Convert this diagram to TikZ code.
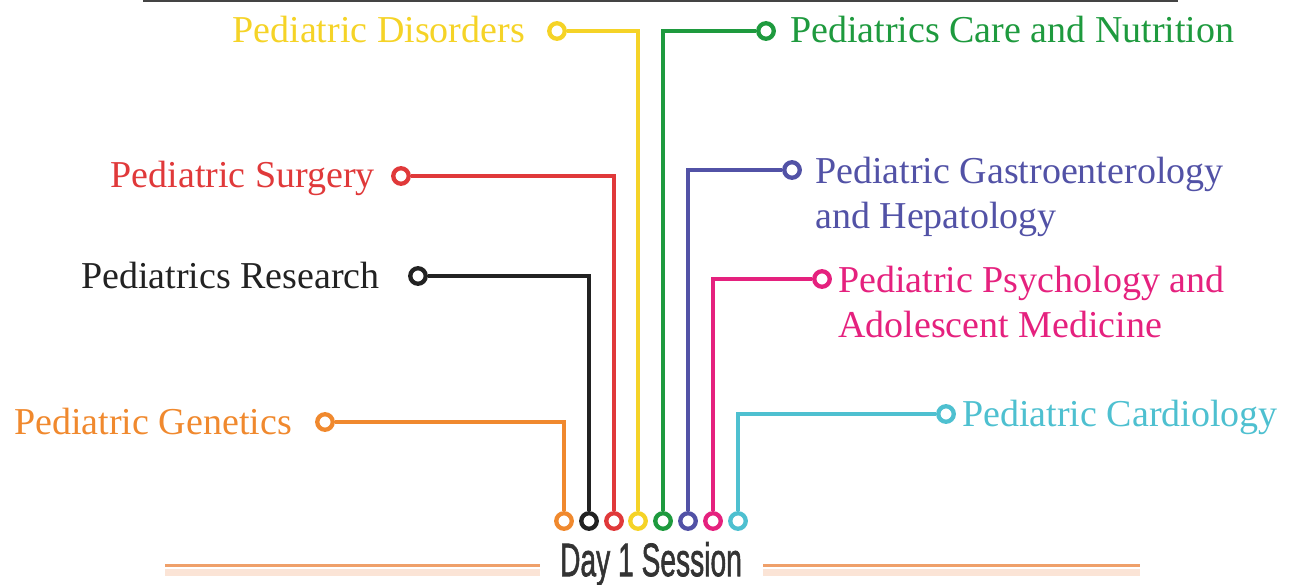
\documentclass[tikz,border=0pt]{standalone}
\usepackage{fontspec}
\setmainfont{Liberation Serif}
\newfontfamily\dayfont[FakeBold=1.6]{Liberation Sans}
\definecolor{cOr}{HTML}{F0892E}
\definecolor{cBk}{HTML}{222222}
\definecolor{cRd}{HTML}{E0393A}
\definecolor{cYe}{HTML}{F5D327}
\definecolor{cGr}{HTML}{1E9A3E}
\definecolor{cBl}{HTML}{5252A6}
\definecolor{cPk}{HTML}{E5217E}
\definecolor{cCy}{HTML}{4EC0D0}
\definecolor{cRule}{HTML}{444444}
\definecolor{cBand}{HTML}{EFA06A}
\definecolor{cBandL}{HTML}{FBE4D6}
\definecolor{cDay}{HTML}{333333}
\begin{document}
\begin{tikzpicture}[x=1pt,y=-1pt,
  dot/.style={circle,draw=#1,fill=white,line width=4.3pt,minimum size=15.5pt,inner sep=0pt},
  conn/.style={draw=#1,line width=4.5pt},
  lab/.style={text=#1,inner sep=0pt,font=\fontsize{38}{45}\selectfont}]
\useasboundingbox (0,0) rectangle (1292,585);
% top rule
\draw[cRule,line width=2.5pt] (143,1) -- (1178,1);
% bottom circles
\node[dot=cOr] (b1) at (564,521) {};
\node[dot=cBk] (b2) at (589,521) {};
\node[dot=cRd] (b3) at (614,521) {};
\node[dot=cYe] (b4) at (638,521) {};
\node[dot=cGr] (b5) at (663,521) {};
\node[dot=cBl] (b6) at (688,521) {};
\node[dot=cPk] (b7) at (713,521) {};
\node[dot=cCy] (b8) at (738,521) {};
% label circles
\node[dot=cOr] (t1) at (325,422) {};
\node[dot=cBk] (t2) at (418,276) {};
\node[dot=cRd] (t3) at (401,176) {};
\node[dot=cYe] (t4) at (557,31) {};
\node[dot=cGr] (t5) at (766,31) {};
\node[dot=cBl] (t6) at (792,170) {};
\node[dot=cPk] (t7) at (822,279) {};
\node[dot=cCy] (t8) at (946,414) {};
% connectors
\draw[conn=cOr] (t1) -| (b1);
\draw[conn=cBk] (t2) -| (b2);
\draw[conn=cRd] (t3) -| (b3);
\draw[conn=cYe] (t4) -| (b4);
\draw[conn=cGr] (t5) -| (b5);
\draw[conn=cBl] (t6) -| (b6);
\draw[conn=cPk] (t7) -| (b7);
\draw[conn=cCy] (t8) -| (b8);
% labels
\node[lab=cOr,anchor=base east] (l1) at (292,434) {Pediatric Genetics};
\node[lab=cBk,anchor=base east] (l2) at (380,288) {Pediatrics Research};
\node[lab=cRd,anchor=base east] (l3) at (375,188) {Pediatric Surgery};
\node[lab=cYe,anchor=base east] (l4) at (525,43) {Pediatric Disorders};
\node[lab=cGr,anchor=base west] (l5) at (790,43) {Pediatrics Care and Nutrition};
\node[lab=cBl,anchor=north west,align=left] (l6) at (815,157) {Pediatric Gastroenterology\\and Hepatology};
\node[lab=cPk,anchor=north west,align=left] (l7) at (838,266) {Pediatric Psychology and\\Adolescent Medicine};
\node[lab=cCy,anchor=base west] (l8) at (962,426) {Pediatric Cardiology};
% day session
\fill[cBandL] (165,569) rectangle (540,576);
\fill[cBandL] (763,569) rectangle (1140,576);
\draw[cBand,line width=3pt] (165,565) -- (540,565);
\draw[cBand,line width=3pt] (763,565) -- (1140,565);
\node[text=cDay,inner sep=0pt] (day) at (651,564) {\scalebox{0.6}[1]{\dayfont\fontsize{47}{50}\selectfont Day 1 Session}};
\end{tikzpicture}
\end{document}
